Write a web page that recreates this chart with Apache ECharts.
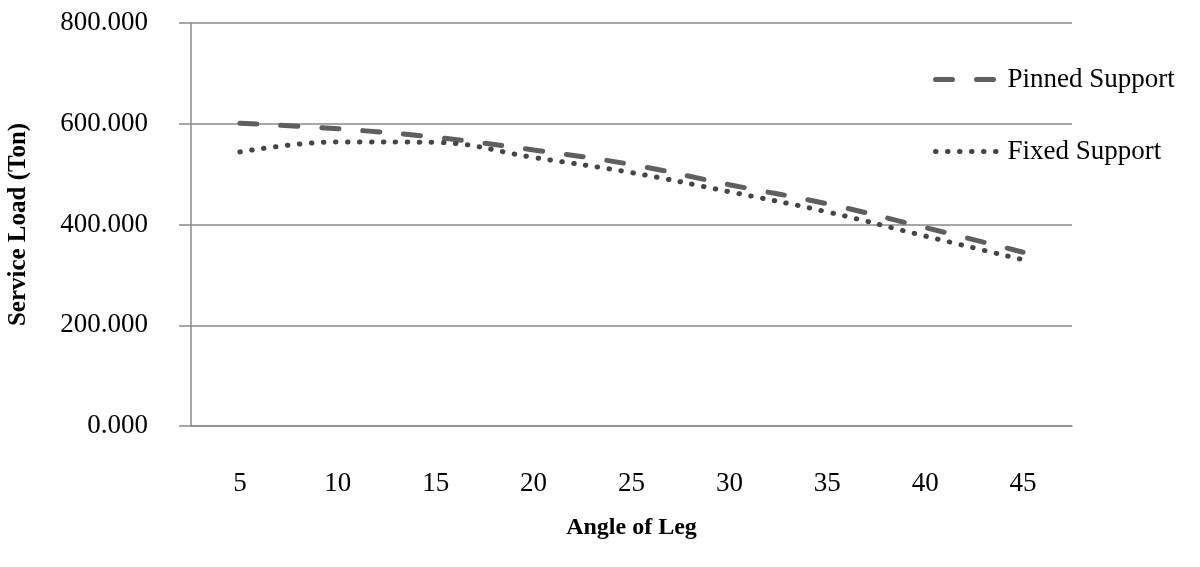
<!DOCTYPE html>
<html>
<head>
<meta charset="utf-8">
<script src="https://cdn.jsdelivr.net/npm/echarts@6/dist/echarts.min.js"></script>
<style>
  html, body { margin: 0; padding: 0; background: #fff; }
  #chart { width: 1200px; height: 567px; }
</style>
</head>
<body>
<div id="chart"></div>
<script>
const angles = ['5', '10', '15', '20', '25', '30', '35', '40', '45']
const pinnedLoad = [601, 590, 573, 548, 519, 479, 441, 394, 345]
const fixedLoad = [544, 564, 563, 533, 503, 465, 425, 377, 330]

const serif = '"Liberation Serif", "Times New Roman", serif'
const gridGray = '#8a8a8a'
const pinnedStyle = { color: '#5f5f5f', width: 5, type: [17, 24], cap: 'round' }
const fixedStyle = { color: '#454545', width: 5, type: [0.5, 11.5], cap: 'round' }

const chart = echarts.init(document.getElementById('chart'), null, { renderer: 'canvas' })

chart.setOption({
  animation: false,
  textStyle: { fontFamily: serif, color: '#000' },
  grid: { left: 191, right: 128, top: 23, bottom: 141, outerBoundsMode: 'none', containLabel: false },
  legend: {
    orient: 'vertical',
    left: 928,
    top: 61,
    itemWidth: 65,
    itemHeight: 28,
    itemGap: 45,
    itemStyle: { opacity: 0 },
    textStyle: { fontFamily: serif, fontSize: 27, color: '#000', padding: [0, 0, 0, 2] },
    data: [
      { name: 'Pinned Support', lineStyle: pinnedStyle, itemStyle: { opacity: 0 } },
      { name: 'Fixed Support', lineStyle: fixedStyle, itemStyle: { opacity: 0 } },
    ],
  },
  xAxis: {
    type: 'category',
    data: angles,
    boundaryGap: true,
    name: 'Angle of Leg',
    nameLocation: 'middle',
    nameGap: 90,
    nameTextStyle: { fontFamily: serif, fontSize: 24, fontWeight: 'bold', color: '#000' },
    axisLine: { show: true, lineStyle: { color: gridGray, width: 1.5 } },
    axisTick: { show: false },
    axisLabel: { fontFamily: serif, fontSize: 27, color: '#000', margin: 44 },
    splitLine: { show: false },
  },
  yAxis: {
    type: 'value',
    min: 0,
    max: 800,
    interval: 200,
    name: 'Service Load (Ton)',
    nameLocation: 'middle',
    nameGap: 160,
    nameTextStyle: { fontFamily: serif, fontSize: 25, fontWeight: 'bold', color: '#000' },
    axisLine: { show: true, lineStyle: { color: gridGray, width: 1.5 } },
    axisTick: { show: true, inside: false, length: 12, lineStyle: { color: gridGray, width: 1.5 } },
    axisLabel: {
      fontFamily: serif,
      fontSize: 27,
      color: '#000',
      margin: 43,
      formatter: (v) => v.toFixed(3),
    },
    splitLine: { show: true, lineStyle: { color: gridGray, width: 1.5 } },
  },
  series: [
    {
      name: 'Pinned Support',
      type: 'line',
      data: pinnedLoad,
      smooth: 0.4,
      symbol: 'none',
      lineStyle: pinnedStyle,
      itemStyle: { color: '#5f5f5f' },
    },
    {
      name: 'Fixed Support',
      type: 'line',
      data: fixedLoad,
      smooth: 0.4,
      symbol: 'none',
      lineStyle: fixedStyle,
      itemStyle: { color: '#454545' },
    },
  ],
})
</script>
</body>
</html>
